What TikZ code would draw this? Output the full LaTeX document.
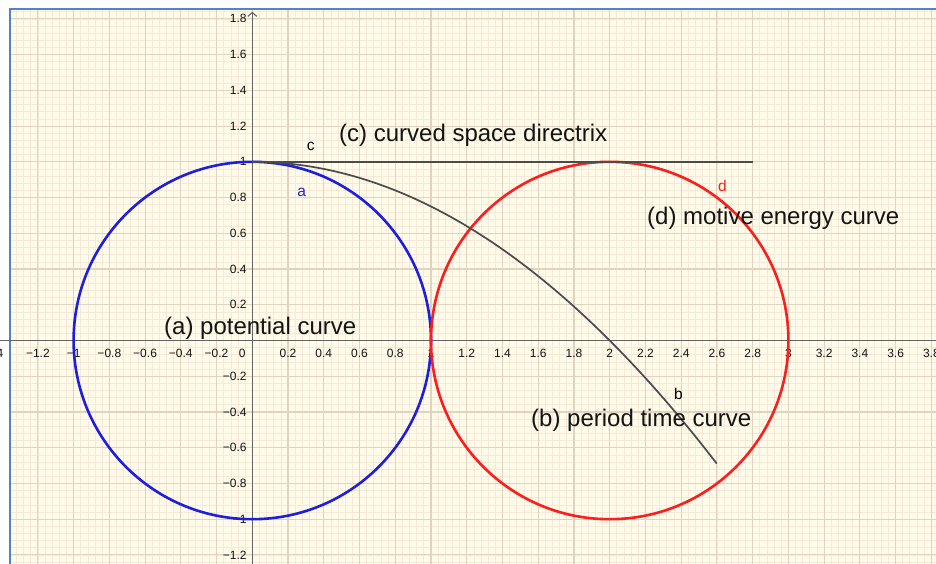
\documentclass[tikz,border=0pt]{standalone}
\usepackage{fontspec}
\setmainfont{Liberation Sans}
\usetikzlibrary{arrows.meta}
\definecolor{bgcream}{RGB}{255,251,232}
\definecolor{gridminor}{RGB}{245,234,218}
\definecolor{gridmajor}{RGB}{226,211,192}
\definecolor{frameblue}{RGB}{85,130,195}
\definecolor{axisgray}{RGB}{100,100,100}
\definecolor{curveblue}{RGB}{30,30,225}
\definecolor{curvered}{RGB}{250,30,30}
\definecolor{curvegray}{RGB}{75,75,75}
\tikzset{
  bigtext/.style={font=\fontsize{24pt}{28pt}\selectfont, text=black!92, inner sep=0pt, anchor=base west},
  ticklab/.style={font=\fontsize{12pt}{14pt}\selectfont, text=black!92, inner sep=0pt},
  smalllab/.style={font=\fontsize{15.5pt}{17pt}\selectfont, inner sep=0pt, anchor=base},
  circ/.style={line width=2.6pt},
  graycurve/.style={line width=1.7pt, draw=curvegray},
  minorline/.style={draw=gridminor, line width=0.7pt},
  majorline/.style={draw=gridmajor, line width=1.1pt},
  axisline/.style={draw=axisgray, line width=1.1pt},
  data/.style={shift={(252.3,340.5)}, x=178.7pt, y=178.7pt}
}
\begin{document}
\begin{tikzpicture}[x=1pt,y=-1pt]
\useasboundingbox (0,0) rectangle (936,564);
\fill[white] (0,0) rectangle (936,564);
\fill[bgcream] (9.5,9.5) rectangle (936,564);
% grid
\begin{scope}
  \clip (9.5,9.5) rectangle (936,564);
  \begin{scope}[data]
    \foreach \i in {-36,...,96} \draw[minorline] (\i*0.04,-1.3) -- (\i*0.04,1.95);
    \foreach \j in {-32,...,48} \draw[minorline] (-1.45,\j*0.04) -- (3.9,\j*0.04);
    \foreach \i in {-7,...,19} \draw[majorline] (\i*0.2,-1.3) -- (\i*0.2,1.95);
    \foreach \j in {-6,...,9} \draw[majorline] (-1.45,\j*0.2) -- (3.9,\j*0.2);
  \end{scope}
\end{scope}
% frame
\draw[frameblue, line width=2pt] (9.5,564) -- (9.5,9.5) -- (936,9.5);
\node[ticklab, anchor=east] (xlm14) at (3.5,353) {−1.4};
\begin{scope}[data]
  % axes
  \coordinate (xl) at (-1.45,0);
  \coordinate (xr) at (3.9,0);
  \coordinate (yb) at (0,-1.3);
  \coordinate (yt) at (0,1.84);
  \draw[axisline] (xl) -- (xr);
  \draw[axisline, -{Straight Barb[length=4pt,width=9pt]}] (yb) -- (yt);
  % x tick labels
  \foreach \v/\t in {-1.2/−1.2,-1/−1,-0.8/−0.8,-0.6/−0.6,-0.4/−0.4,-0.2/−0.2,
                     0.2/0.2,0.4/0.4,0.6/0.6,0.8/0.8,1/1,1.2/1.2,1.4/1.4,1.6/1.6,1.8/1.8,
                     2/2,2.2/2.2,2.4/2.4,2.6/2.6,2.8/2.8,3/3,3.2/3.2,3.4/3.4,3.6/3.6,3.8/3.8}
    \node[ticklab, yshift=-12.5pt] (xt\t) at (\v,0) {\t};
  \node[ticklab, xshift=-10pt, yshift=-12.5pt] (xt0) at (0,0) {0};
  % y tick labels
  \foreach \v/\t in {1.8/1.8,1.6/1.6,1.4/1.4,1.2/1.2,1/1,0.8/0.8,0.6/0.6,0.4/0.4,0.2/0.2,
                     -0.2/−0.2,-0.4/−0.4,-0.6/−0.6,-0.8/−0.8,-1/−1,-1.2/−1.2}
    \node[ticklab, anchor=east, xshift=-5.5pt] (yt\t) at (0,\v) {\t};
  % curves
  \draw[circ, curveblue] (0,0) circle[radius=1];
  \draw[circ, curvered] (2,0) circle[radius=1];
  \coordinate (c0) at (0,1);
  \coordinate (c1) at (2.8,1);
  \draw[graycurve] (c0) -- (c1);
  \draw[graycurve] plot[domain=0:2.6, samples=80] (\x, {1-\x*\x/4});
\end{scope}
% labels
\node[smalllab, text=black] (lc) at (310.7,151) {c};
\node[smalllab, text=curveblue] (la) at (301.7,196.5) {a};
\node[smalllab, text=curvered] (ld) at (722.5,191) {d};
\node[smalllab, text=black] (lb) at (678.5,399) {b};
\node[bigtext] (ta) at (164,334) {(a) potential curve};
\node[bigtext] (tc) at (339,141.5) {(c) curved space directrix};
\node[bigtext] (td) at (647,224) {(d) motive energy curve};
\node[bigtext] (tb) at (531,426) {(b) period time curve};
\end{tikzpicture}
\end{document}
